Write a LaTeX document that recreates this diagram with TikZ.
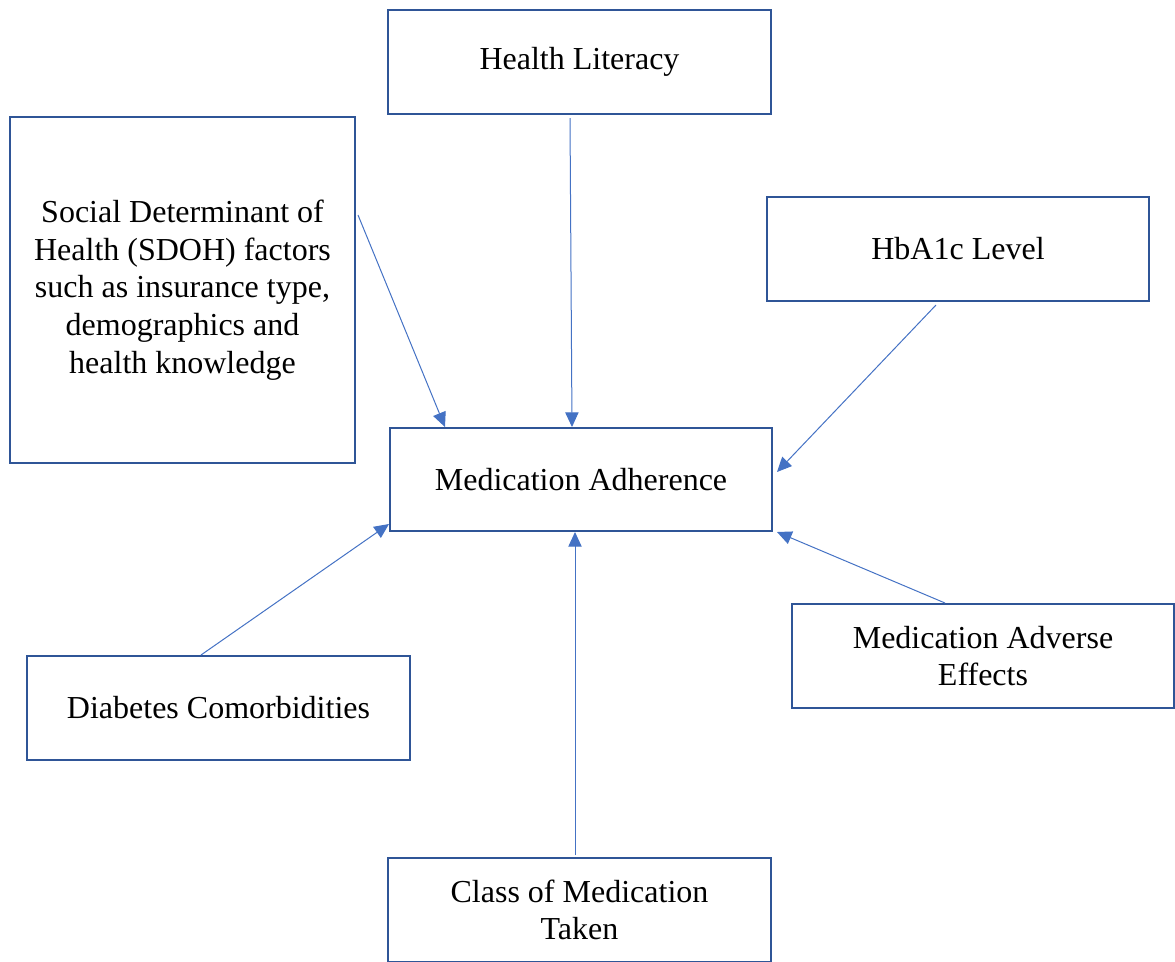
\documentclass[tikz,border=0pt]{standalone}
\usepackage{fontspec}
\setmainfont{Liberation Serif}
\usetikzlibrary{arrows.meta,calc}
\definecolor{boxblue}{HTML}{2F5597}
\definecolor{arrowblue}{HTML}{4472C4}
\tikzset{
  box/.style 2 args={draw=boxblue, line width=1.5pt, inner sep=0pt, align=center,
    minimum width=#1*0.75pt, minimum height=#2*0.75pt,
    font=\fontsize{24}{28.2}\selectfont},
  link/.style={draw=arrowblue, line width=0.75pt, -{Triangle[length=11pt,width=10pt]}}
}
\begin{document}
\begin{tikzpicture}[x=0.75pt,y=-0.75pt]
\useasboundingbox (0,0) rectangle (1175,961);
\node[box={383}{104}] (hl) at (579.5,62) {Health Literacy};
\node[box={345}{346}] (sdoh) at (182.5,290) {Social Determinant of\\Health (SDOH) factors\\such as insurance type,\\demographics and\\health knowledge};
\node[box={382}{104}] (hb) at (958,249) {HbA1c Level};
\node[box={382}{103}] (ma) at (581,479.5) {Medication Adherence};
\node[box={383}{104}] (dc) at (218.5,708) {Diabetes Comorbidities};
\node[box={382}{104}] (ae) at (983,656) {Medication Adverse\\Effects};
\node[box={383}{104}] (cm) at (579.5,910) {Class of Medication\\Taken};

\draw[link] ($(hl.south)+(-9.5,3)$) -- ($(ma.north)+(-9,0)$);
\draw[link] ($(sdoh.east)+(2,-75)$) -- ($(ma.north west)+(56,0)$);
\draw[link] ($(hb.south)+(-22,3)$) -- ($(ma.east)+(4,-7.5)$);
\draw[link] ($(ae.north)+(-38,0)$) -- ($(ma.south east)+(4,0)$);
\draw[link] ($(cm.north)+(-4.5,-2)$) -- ($(ma.south)+(-6,0)$);
\draw[link] ($(dc.north)+(-17.5,0)$) -- ($(ma.south west)+(0,-8)$);
\end{tikzpicture}
\end{document}
